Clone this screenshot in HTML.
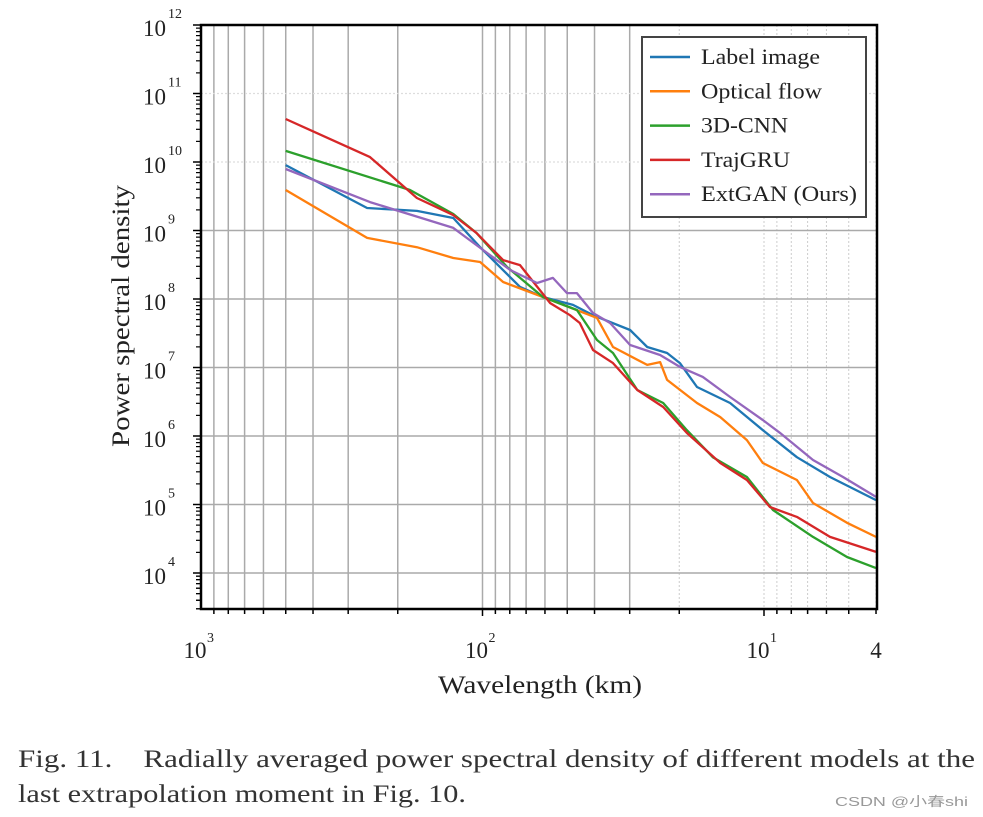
<!DOCTYPE html>
<html><head><meta charset="utf-8"><style>
body{margin:0;background:#fff;width:983px;height:817px;overflow:hidden;font-family:"Liberation Serif",serif}
svg{position:absolute;left:0;top:0}
</style></head><body>
<svg width="983" height="817" id="chart">
 <g id="grid"></g><g id="series"></g><g id="axes"></g><g id="legend"></g>
 <text x="18" y="767" font-size="25" fill="#333" textLength="957" lengthAdjust="spacingAndGlyphs">Fig. 11.&#160;&#160;&#160; Radially averaged power spectral density of different models at the</text>
 <text x="18" y="802" font-size="25" fill="#333" textLength="448" lengthAdjust="spacingAndGlyphs">last extrapolation moment in Fig. 10.</text>
 <text x="835" y="806" font-size="13" fill="#999" textLength="133" lengthAdjust="spacingAndGlyphs" style="font-family:'Liberation Sans','Noto Sans CJK SC',sans-serif">CSDN @小春shi</text>
</svg>
<script>
const seriesNames=["Label image","Optical flow","3D-CNN","TrajGRU","ExtGAN (Ours)"];
const seriesColors=["#1f77b4","#ff7f0e","#2ca02c","#d62728","#9467bd"];
const blueW=[500,257,171,127,102,73.6,61,47.7,40.5,29.9,26,22.1,19.9,17.3,13.2,10.1,7.64,5.83,4];
const blueV=[9e9,2.13e9,1.93e9,1.52e9,5.7e8,1.5e8,1.07e8,8.2e7,5.8e7,3.53e7,1.99e7,1.63e7,1.16e7,5.2e6,3.03e6,1.22e6,4.9e5,2.52e5,1.16e5];
const orangeW=[500,257,171,127,102,84.5,61,39.2,34.4,26,23.4,22.1,17.3,14.3,11.5,10.1,7.64,6.7,5.07,4];
const orangeV=[3.9e9,7.8e8,5.7e8,3.97e8,3.47e8,1.77e8,1.07e8,5.3e7,1.99e7,1.09e7,1.2e7,6.6e6,3.03e6,1.89e6,8.7e5,4.04e5,2.28e5,1.05e5,5.4e4,3.36e4];
const greenW=[500,181,127,105,81.8,61,46.2,39.2,34.4,28.2,22.8,18.8,15.2,11.5,9.29,6.7,5.07,4];
const greenV=[1.45e10,3.9e9,1.74e9,9.2e8,2.93e8,1.07e8,6.9e7,2.52e7,1.63e7,4.7e6,3.03e6,1.22e6,4.9e5,2.52e5,8.3e4,3.36e4,1.71e4,1.18e4];
const redW=[500,251,171,127,105,84.5,73.6,57.5,48.9,45.1,40.5,34.4,28.2,22.8,18.8,14.3,11.5,9.53,7.64,5.83,4];
const redV=[4.25e10,1.18e10,2.98e9,1.68e9,9.2e8,3.7e8,3.13e8,8.7e7,5.8e7,4.47e7,1.8e7,1.16e7,4.7e6,2.65e6,1.11e6,4.04e5,2.28e5,9.2e4,6.6e4,3.36e4,2.03e4];
const purpleW=[500,251,127,99.5,79.7,64,56.2,50.1,46.2,40.5,35.2,29.9,23.4,19.9,16.5,13.2,10.1,8.77,6.7,5.24,4];
const purpleV=[7.9e9,2.6e9,1.09e9,5.2e8,2.65e8,1.71e8,2.03e8,1.22e8,1.22e8,6.25e7,4.47e7,2.13e7,1.52e7,1.02e7,7.3e6,3.71e6,1.71e6,1.11e6,4.47e5,2.52e5,1.29e5];
const yTickExps=[4,5,6,7,8,9,10,11,12];
const xTickLabels=[["10","3",1000],["10","2",100],["10","1",10],["4","",4]];

const L=201,R=877,T=25,B=609;
const X=w=>L+(3-Math.log10(w))*281.5;
const Y=v=>T+(12-Math.log10(v))*68.5;
const NS="http://www.w3.org/2000/svg";
function mk(tag,parent,attrs){const e=document.createElementNS(NS,tag);for(const k in attrs)e.setAttribute(k,attrs[k]);parent.appendChild(e);return e;}
const grid=document.getElementById('grid'),axes=document.getElementById('axes'),ser=document.getElementById('series'),leg=document.getElementById('legend');
for(let d=0;d<3;d++){for(let m=1;m<10;m++){const w=m*Math.pow(10,d);if(w<4||w>=1000)continue;const x=X(w);
 const dotted=w<=20;
 const g=mk('line',grid,{x1:x,x2:x,y1:T,y2:B,stroke:dotted?'#ccc':'#aaa','stroke-width':dotted?1:1.5,'stroke-dasharray':dotted?'2,2':'none'});
 
 
 const t=mk('line',axes,{x1:x,x2:x,y1:B,y2:B+(m===1?7:5),stroke:'#000','stroke-width':1.5});
 
 
}}
yTickExps.forEach(e=>{const y=Y(Math.pow(10,e));
 if(e<12){const dotted=e>=10;
  const g=mk('line',grid,{x1:L,x2:R,y1:y,y2:y,stroke:dotted?'#ddd':'#aaa','stroke-width':dotted?1.2:1.5,'stroke-dasharray':dotted?'2,2':'none'});
  
  }
 mk('line',axes,{x1:L-8,x2:L,y1:y,y2:y,stroke:'#000','stroke-width':1.5});
 for(let m=2;m<10;m++){const v=m*Math.pow(10,e-1);const yy=Y(v);if(yy>B||yy<T)continue;mk('line',axes,{x1:L-5,x2:L,y1:yy,y2:yy,stroke:'#000','stroke-width':1.2});}
 const tx=mk('text',axes,{x:166,y:y+11,'text-anchor':'end','font-size':23,fill:'#222'});
 tx.textContent='10';
 
 
 const sp=mk('text',axes,{x:168,y:y-7,'font-size':14,fill:'#222'});sp.textContent=e;
});
for(let m=2;m<10;m++){const yy=Y(m*1000);if(yy<=B)mk('line',axes,{x1:L-5,x2:L,y1:yy,y2:yy,stroke:'#000','stroke-width':1.2});}
xTickLabels.forEach(([b,s,w])=>{const x=X(w);
 const tx=mk('text',axes,{x:s?x-6:x,y:658,'text-anchor':'middle','font-size':23,fill:'#222'});
 tx.textContent=b;
 
 
 if(s){const sp=mk('text',axes,{x:x+6,y:642,'font-size':14,fill:'#222'});sp.textContent=s;}
});
const fr=mk('rect',axes,{x:L,y:T,width:R-L,height:B-T,fill:'none',stroke:'#000','stroke-width':2.5});


const xt=mk('text',axes,{x:438,y:693,'font-size':25,fill:'#222',textLength:204,lengthAdjust:'spacingAndGlyphs'});xt.textContent='Wavelength (km)';


const yt=mk('text',axes,{x:-131,y:0,'font-size':25,fill:'#222',textLength:262,lengthAdjust:'spacingAndGlyphs',transform:'translate(129,316) rotate(-90)'});yt.textContent='Power spectral density';


const data=[[blueW,blueV],[orangeW,orangeV],[greenW,greenV],[redW,redV],[purpleW,purpleV]];
const keys=['label-image','optical-flow','3d-cnn','trajgru','extgan'];
data.forEach(([ws,vs],i)=>{const d=ws.map((w,j)=>(j?'L':'M')+X(w).toFixed(1)+','+Y(vs[j]).toFixed(1)).join('');
 const p=mk('path',ser,{d:d,fill:'none',stroke:seriesColors[i],'stroke-width':2.3,'stroke-linejoin':'round'});
 
 
});
const legW=[119,121,87,89,156];
const lb=mk('rect',leg,{x:642,y:37,width:224,height:180,fill:'#fff',stroke:'#444','stroke-width':2});


seriesNames.forEach((n,i)=>{const y=57+i*34.3;
 const g=mk('g',leg,{});
 
 
 mk('line',g,{x1:650,x2:690,y1:y,y2:y,stroke:seriesColors[i],'stroke-width':2.5});
 const t=mk('text',g,{x:701,y:y+7,'font-size':22,fill:'#222',textLength:legW[i],lengthAdjust:'spacingAndGlyphs'});t.textContent=n;
});
</script>
</body></html>
